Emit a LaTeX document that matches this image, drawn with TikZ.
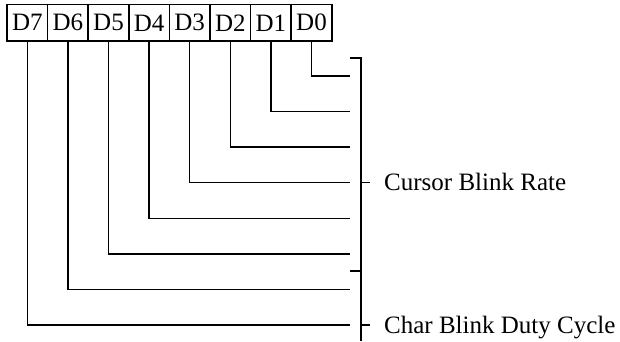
\documentclass[tikz,border=0pt]{standalone}
\usepackage{fontspec}
\setmainfont{Liberation Serif}
\begin{document}
\begin{tikzpicture}[x=1pt,y=-1pt,
  bit/.style={draw, line width=1.5pt, minimum width=40.6pt, minimum height=36.5pt, inner sep=0pt, font=\fontsize{25}{30}\selectfont},
  wire/.style={line width=1.5pt},
  lbl/.style={anchor=base west, inner sep=0pt, font=\fontsize{25}{30}\selectfont}]
\useasboundingbox (0,0) rectangle (620,341);
\foreach \i/\n in {0/7,1/6,2/5,3/4,4/3,5/2,6/1,7/0}
  \node[bit] (d\n) at ({27.3+40.6*\i},22.8) {D\n};
\foreach \n in {0,...,7} {
  \coordinate (h\n) at (350,{76+35.57*\n});
  \draw[wire] (d\n.south) |- (h\n);
}
% brackets
\coordinate (b1) at (350,58.2);
\coordinate (b1r) at (361,58.2);
\coordinate (b2) at (350,271);
\coordinate (b2r) at (361,271);
\coordinate (b3) at (361,341);
\draw[wire] (b1) -- (b1r) -- (b3);
\draw[wire] (b2) -- (b2r);
\coordinate (t1) at (361,182.5);
\coordinate (t1e) at (370,182.5);
\coordinate (t2) at (361,325);
\coordinate (t2e) at (370,325);
\draw[wire] (t1) -- (t1e);
\draw[wire] (t2) -- (t2e);
\node[lbl] (cbr) at (384,190.8) {Cursor Blink Rate};
\node[lbl] (cbd) at (384,333.3) {Char Blink Duty Cycle};
\end{tikzpicture}
\end{document}
